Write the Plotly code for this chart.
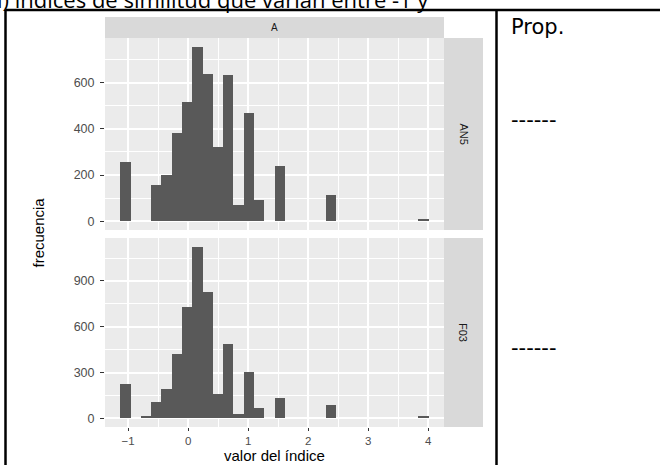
import plotly.graph_objects as go

# Histogram of the index value (30 bins), one row per group
bin_centers = [-1.042, -0.871, -0.700, -0.529, -0.358, -0.187, -0.016, 0.155,
               0.326, 0.497, 0.668, 0.839, 1.011, 1.182, 1.353, 1.524, 1.695,
               1.866, 2.037, 2.208, 2.380, 2.551, 2.722, 2.893, 3.064, 3.235,
               3.406, 3.577, 3.748, 3.919]
bin_width = 0.171
counts_AN5 = [258, 0, 0, 155, 199, 383, 517, 755, 639, 321, 634, 69, 468, 91, 0,
              238, 0, 0, 0, 0, 115, 0, 0, 0, 0, 0, 0, 0, 0, 12]
counts_F03 = [227, 0, 15, 107, 191, 422, 729, 1125, 830, 163, 487, 26, 304, 66, 0,
              133, 0, 0, 0, 0, 86, 0, 0, 0, 0, 0, 0, 0, 0, 15]

col_label = "A"
row_labels = ["AN5", "F03"]
x_ticks = [-1, 0, 1, 2, 3, 4]
y_ticks_AN5 = [0, 200, 400, 600]
y_ticks_F03 = [0, 300, 600, 900]
x_title = "valor del índice"
y_title = "frecuencia"
doc_heading = "i) índices de similitud que varían entre -1 y"
side_header = "Prop."
side_cells = ["------", "------"]

W, H = 660, 465


def px(x):
    return x / W


def py(y):
    return 1 - y / H


# panel boxes in pixels
PL, PR = 105, 444
TOP_T, TOP_B = 38, 230
BOT_T, BOT_B = 238, 427
STRIP_R = 483

BAR = "#595959"
PANEL = "#EBEBEB"
STRIP = "#D9D9D9"
TICKTXT = "#4D4D4D"
TICKCOL = "#333333"
GG_FONT = "Liberation Sans, Arial, sans-serif"
DOC_FONT = "Open Sans, Noto Sans, sans-serif"
CELL_FONT = "DejaVu Sans, sans-serif"

lo = bin_centers[0] - bin_width / 2
hi = bin_centers[-1] + bin_width / 2
span = hi - lo
x_range = [lo - 0.05 * span, hi + 0.05 * span]

fig = go.Figure()
fig.add_trace(go.Bar(x=bin_centers, y=counts_AN5, width=bin_width,
                     marker=dict(color=BAR, line=dict(width=0)),
                     xaxis="x2", yaxis="y2", showlegend=False))
fig.add_trace(go.Bar(x=bin_centers, y=counts_F03, width=bin_width,
                     marker=dict(color=BAR, line=dict(width=0)),
                     xaxis="x", yaxis="y", showlegend=False))

tick_font = dict(family=GG_FONT, size=12.5, color=TICKTXT)


def yaxis_cfg(domain, vals, counts, minor_step):
    m = max(counts)
    return dict(domain=domain, range=[-0.05 * m, 1.05 * m], tickvals=vals,
                ticks="outside", ticklen=4, tickwidth=1.1, tickcolor=TICKCOL,
                tickfont=tick_font, showgrid=True, gridcolor="white",
                gridwidth=1.6, zeroline=False, showline=False,
                minor=dict(dtick=minor_step, tick0=0, showgrid=True,
                           gridcolor="white", gridwidth=0.8, ticks=""),
                fixedrange=True, ticklabelstandoff=3)


xdom = [px(PL), px(PR)]
fig.update_layout(
    width=W, height=H, autosize=False,
    margin=dict(l=0, r=0, t=0, b=0),
    paper_bgcolor="white", plot_bgcolor=PANEL,
    bargap=0,
    xaxis=dict(domain=xdom, anchor="y", range=x_range, tickvals=x_ticks,
               ticks="outside", ticklen=3, tickwidth=1.1, tickcolor=TICKCOL,
               tickfont=dict(family=GG_FONT, size=11.5, color=TICKTXT),
               showgrid=True, gridcolor="white",
               gridwidth=1.6, zeroline=False,
               minor=dict(dtick=0.5, tick0=0, showgrid=True,
                          gridcolor="white", gridwidth=0.8, ticks=""),
               fixedrange=True, ticklabelstandoff=0),
    xaxis2=dict(domain=xdom, anchor="y2", range=x_range, tickvals=x_ticks,
                showticklabels=False, ticks="", showgrid=True,
                gridcolor="white", gridwidth=1.6, zeroline=False,
                minor=dict(dtick=0.5, tick0=0, showgrid=True,
                           gridcolor="white", gridwidth=0.8, ticks=""),
                fixedrange=True),
    yaxis=yaxis_cfg([py(BOT_B), py(BOT_T)], y_ticks_F03, counts_F03, 150),
    yaxis2=yaxis_cfg([py(TOP_B), py(TOP_T)], y_ticks_AN5, counts_AN5, 100),
)

shapes = []
# facet strips
shapes.append(dict(type="rect", xref="paper", yref="paper",
                   x0=px(PL), x1=px(PR), y0=py(TOP_T), y1=py(17),
                   fillcolor=STRIP, line=dict(width=0), layer="below"))
for (t, b) in [(TOP_T, TOP_B), (BOT_T, BOT_B)]:
    shapes.append(dict(type="rect", xref="paper", yref="paper",
                       x0=px(PR), x1=px(STRIP_R), y0=py(b), y1=py(t),
                       fillcolor=STRIP, line=dict(width=0), layer="below"))
# document table borders
line = dict(color="black", width=2.5)
TB = 10
shapes.append(dict(type="line", xref="paper", yref="paper",
                   x0=px(5.5), x1=px(5.5), y0=py(TB), y1=py(470), line=line))
shapes.append(dict(type="line", xref="paper", yref="paper",
                   x0=px(5.5), x1=px(665), y0=py(TB), y1=py(TB), line=line))
shapes.append(dict(type="line", xref="paper", yref="paper",
                   x0=px(496.5), x1=px(496.5), y0=py(TB), y1=py(470), line=line))

annotations = []
annotations.append(dict(text=col_label, xref="paper", yref="paper",
                        x=px((PL + PR) / 2), y=py(27.5), showarrow=False,
                        xanchor="center", yanchor="middle",
                        font=dict(family=GG_FONT, size=10, color="#1A1A1A")))
for lab, (t, b) in zip(row_labels, [(TOP_T, TOP_B), (BOT_T, BOT_B)]):
    annotations.append(dict(text=lab, xref="paper", yref="paper",
                            x=px((PR + STRIP_R) / 2), y=py((t + b) / 2),
                            showarrow=False, textangle=90,
                            xanchor="center", yanchor="middle",
                            font=dict(family=GG_FONT, size=11, color="#1A1A1A")))
annotations.append(dict(text=y_title, xref="paper", yref="paper",
                        x=px(38), y=py((TOP_T + BOT_B) / 2), showarrow=False,
                        textangle=-90, xanchor="center", yanchor="middle",
                        font=dict(family=GG_FONT, size=15, color="black")))
annotations.append(dict(text=x_title, xref="paper", yref="paper",
                        x=px((PL + PR) / 2), y=0, showarrow=False,
                        xanchor="center", yanchor="bottom", borderpad=0,
                        font=dict(family=GG_FONT, size=15, color="black")))
annotations.append(dict(text=doc_heading, xref="paper", yref="paper",
                        x=px(-5), y=py(-1.5), showarrow=False,
                        xanchor="left", yanchor="middle",
                        font=dict(family=DOC_FONT, size=22, color="black")))
annotations.append(dict(text=side_header, xref="paper", yref="paper",
                        x=px(509), y=py(27), showarrow=False,
                        xanchor="left", yanchor="middle",
                        font=dict(family=CELL_FONT, size=21, color="black")))
for cell, yy in zip(side_cells, [120, 348]):
    annotations.append(dict(text=cell, xref="paper", yref="paper",
                            x=px(509), y=py(yy), showarrow=False,
                            xanchor="left", yanchor="middle",
                            font=dict(family=CELL_FONT, size=21, color="black")))

fig.update_layout(shapes=shapes, annotations=annotations)
fig.write_html("out.html", config=dict(displayModeBar=False))
